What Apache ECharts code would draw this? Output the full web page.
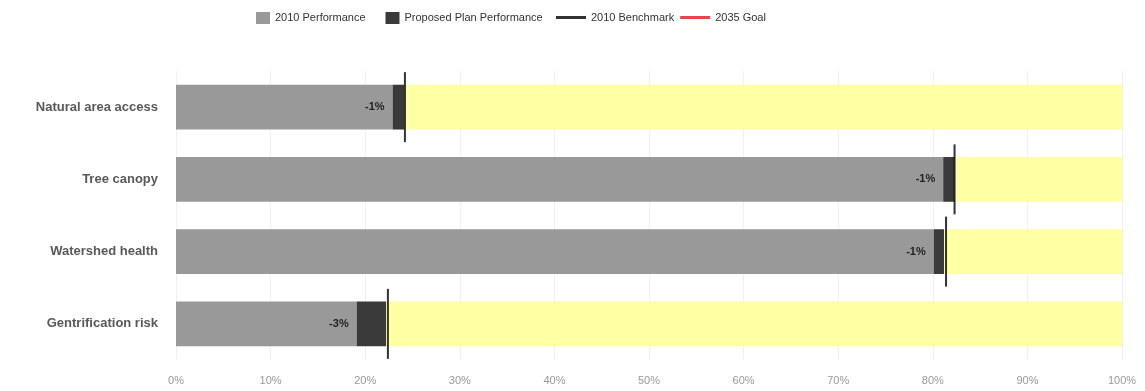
<!DOCTYPE html>
<html><head><meta charset="utf-8">
<script src="https://cdn.jsdelivr.net/npm/echarts@6/dist/echarts.min.js"></script>
<style>html,body{margin:0;padding:0;background:#fff}#c{width:1145px;height:391px}</style>
</head><body><div id="c"></div>
<script>
var categories = ['Natural area access', 'Tree canopy', 'Watershed health', 'Gentrification risk'];
var perf2010 = [22.9, 81.1, 80.1, 19.1];
var proposedEnd = [24.1, 82.3, 81.2, 22.2];
var benchmark2010 = [24.2, 82.3, 81.4, 22.4];
var changeLabels = ['-1%', '-1%', '-1%', '-3%'];
var xTicks = [0, 10, 20, 30, 40, 50, 60, 70, 80, 90, 100];

var proposedPart = proposedEnd.map(function (v, i) { return +(v - perf2010[i]).toFixed(2); });
var remainder = proposedEnd.map(function (v) { return +(100 - v).toFixed(2); });

var legendFont = { fontSize: 11, color: '#333', fontFamily: 'Liberation Sans, Arial, sans-serif' };
var chart = echarts.init(document.getElementById('c'));
chart.setOption({
  animation: false,
  textStyle: { fontFamily: 'Liberation Sans, Arial, sans-serif' },
  legend: [{
    left: 256, top: 12, padding: 0, itemWidth: 14, itemHeight: 12, itemGap: 20,
    textStyle: legendFont,
    data: [{ name: '2010 Performance', icon: 'rect' }, { name: 'Proposed Plan Performance', icon: 'rect' }]
  }, {
    left: 556, top: 12, padding: 0, itemWidth: 30, itemHeight: 3, itemGap: 6,
    textStyle: legendFont,
    data: [{ name: '2010 Benchmark', icon: 'rect' }, { name: '2035 Goal', icon: 'rect' }]
  }],
  grid: { left: 176, right: 23, top: 71, bottom: 31 },
  xAxis: {
    type: 'value', min: 0, max: 100, interval: 10,
    axisLabel: { formatter: function (v) { return xTicks.indexOf(v) >= 0 ? v + '%' : ''; }, color: '#999', fontSize: 11, margin: 15 },
    axisLine: { show: false }, axisTick: { show: false },
    splitLine: { show: true, lineStyle: { color: '#f0f0f0', width: 1 } }
  },
  yAxis: {
    type: 'category', data: categories, inverse: true,
    axisLine: { show: false }, axisTick: { show: false },
    axisLabel: { color: '#595959', fontSize: 13, fontWeight: 'bold', margin: 18 }
  },
  series: [{
    name: '2010 Performance', type: 'bar', stack: 's', barWidth: '62%',
    itemStyle: { color: '#999999' }, data: perf2010,
    label: {
      show: true, position: 'insideRight', distance: 8,
      formatter: function (p) { return changeLabels[p.dataIndex]; },
      color: '#222', fontSize: 11, fontWeight: 'bold'
    }
  }, {
    name: 'Proposed Plan Performance', type: 'bar', stack: 's',
    itemStyle: { color: '#3a3a3a' }, data: proposedPart
  }, {
    name: 'Remaining', type: 'bar', stack: 's',
    itemStyle: { color: '#FFFFA3' }, data: remainder
  }, {
    name: '2010 Benchmark', type: 'scatter', symbol: 'rect', symbolSize: [2, 70],
    itemStyle: { color: '#000' }, z: 5,
    data: benchmark2010.map(function (v, i) { return [v, i]; })
  }, {
    name: '2035 Goal', type: 'scatter', symbol: 'rect', symbolSize: [2, 70],
    itemStyle: { color: '#e8141e' }, data: []
  }]
});
</script></body></html>
